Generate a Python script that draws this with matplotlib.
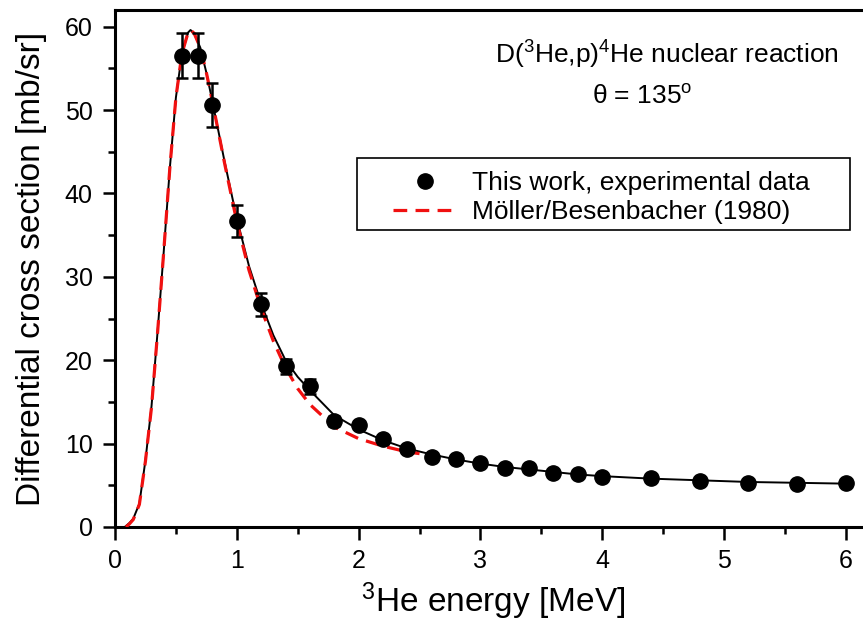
import numpy as np
import matplotlib
matplotlib.use('Agg')
import matplotlib.pyplot as plt
from matplotlib.patches import Rectangle

plt.rcParams['font.family'] = ['Liberation Sans', 'DejaVu Sans']
plt.rcParams['mathtext.fontset'] = 'custom'
plt.rcParams['mathtext.rm'] = 'Liberation Sans'
plt.rcParams['mathtext.it'] = 'Liberation Sans:italic'

# measured points: 3He energy [MeV], cross section [mb/sr], error
e_exp = [0.55, 0.68, 0.80, 1.00, 1.20, 1.40, 1.60, 1.80, 2.00, 2.20, 2.40, 2.60,
         2.80, 3.00, 3.20, 3.40, 3.60, 3.80, 4.00, 4.40, 4.80, 5.20, 5.60, 6.00]
sig_exp = [56.5, 56.5, 50.6, 36.7, 26.7, 19.3, 16.9, 12.7, 12.2, 10.5, 9.3, 8.4,
           8.1, 7.7, 7.1, 7.1, 6.5, 6.3, 6.0, 5.9, 5.5, 5.3, 5.2, 5.3]
err_exp = [2.7, 2.7, 2.6, 1.9, 1.4, 0.9, 0.9, 0.6, 0.5, 0.5, 0.4, 0.4,
           0.4, 0.3, 0.3, 0.3, 0.3, 0.3, 0.3, 0.3, 0.2, 0.2, 0.2, 0.2]

# fitted curve through the data
e_fit = [0.08, 0.12, 0.15, 0.20, 0.25, 0.30, 0.35, 0.40, 0.45, 0.50, 0.55, 0.60,
         0.62, 0.65, 0.70, 0.75, 0.80, 0.90, 1.00, 1.10, 1.20, 1.30, 1.40, 1.50,
         1.60, 1.80, 2.00, 2.20, 2.40, 2.60, 2.80, 3.00, 3.20, 3.40, 3.60, 3.80,
         4.00, 4.40, 4.80, 5.20, 5.60, 6.00]
sig_fit = [0.0, 0.5, 1.0, 2.8, 8.0, 14.5, 23.5, 33.0, 43.0, 51.5, 56.8, 59.3,
           59.6, 59.2, 57.5, 54.5, 51.0, 43.8, 37.0, 31.3, 26.8, 23.0, 20.0, 18.0,
           16.4, 13.4, 11.7, 10.4, 9.4, 8.7, 8.1, 7.6, 7.2, 6.9, 6.6, 6.3,
           6.1, 5.8, 5.6, 5.4, 5.3, 5.2]

# Moller/Besenbacher (1980)
e_mb = [0.09, 0.12, 0.15, 0.20, 0.25, 0.30, 0.35, 0.40, 0.45, 0.50, 0.55, 0.60,
        0.62, 0.65, 0.70, 0.75, 0.80, 0.90, 1.00, 1.10, 1.20, 1.30, 1.40, 1.50,
        1.60, 1.80, 2.00, 2.20, 2.40, 2.50]
sig_mb = [0.0, 0.4, 0.9, 2.7, 7.9, 14.4, 23.4, 33.0, 43.0, 51.5, 56.8, 59.3,
          59.6, 59.2, 57.5, 54.5, 51.0, 43.6, 36.6, 30.8, 26.2, 22.3, 19.1, 16.6,
          14.7, 12.0, 10.6, 9.7, 9.0, 8.8]

fig = plt.figure(figsize=(8.63, 6.28), dpi=100)
ax = fig.add_axes([115/863., 1 - 527/628., 757/863., 517/628.])

ax.plot(e_fit, sig_fit, color='black', lw=1.4, zorder=2)
ax.plot(e_mb, sig_mb, color='#f01010', lw=2.3, dashes=(4.3, 2.6), zorder=3,
        label=u'Möller/Besenbacher (1980)')
ax.errorbar(e_exp, sig_exp, yerr=err_exp, fmt='none', ecolor='black',
            elinewidth=1.8, capsize=4, capthick=1.8, zorder=4)
ax.plot(e_exp, sig_exp, 'o', color='black', ms=11, zorder=5,
        label='This work, experimental data')

ax.set_xlim(0, 757/121.8)
ax.set_ylim(0, 62)
ax.set_xticks(np.arange(0, 7, 1))
ax.set_xticks(np.arange(0.5, 6.5, 1), minor=True)
ax.set_yticks(np.arange(0, 70, 10))
ax.set_yticks(np.arange(5, 65, 10), minor=True)

for sp in ax.spines.values():
  sp.set_linewidth(2.2)
ax.tick_params(which='major', direction='out', length=9, width=1.8,
               labelsize=18, pad=7)
ax.tick_params(which='minor', direction='out', length=5, width=1.8)

ax.set_xlabel(r'$^{3}$He energy [MeV]', fontsize=24, labelpad=5)
ax.set_ylabel('Differential cross section [mb/sr]', fontsize=24, labelpad=13)

ax.text(0.729, 0.913, r'D($^3$He,p)$^4$He nuclear reaction', transform=ax.transAxes,
        ha='center', va='center', fontsize=19)
ax.text(0.697, 0.832, r'θ = 135$^{\rm o}$', transform=ax.transAxes,
        ha='center', va='center', fontsize=19)

# legend without its own frame, boxed by a plain rectangle
h, l = ax.get_legend_handles_labels()
leg = ax.legend(h[::-1], l[::-1], loc='upper left', bbox_to_anchor=(0.357, 0.704),
                borderaxespad=0, fontsize=19, frameon=False, numpoints=1,
                borderpad=0.3, labelspacing=0.2, handlelength=2.45,
                handletextpad=0.55)
ax.add_patch(Rectangle((0.3197, 0.5745), 0.651, 0.139, transform=ax.transAxes,
                       fill=False, edgecolor='black', lw=1.2, zorder=6))

plt.savefig('out.png', dpi=100)
plt.close()
